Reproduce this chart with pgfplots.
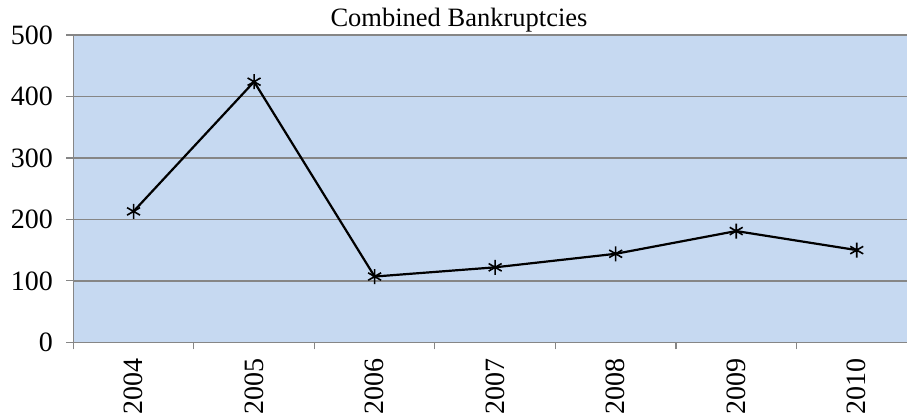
\documentclass[border=0pt]{standalone}
\usepackage{fontspec}
\setmainfont{Liberation Serif}
\usepackage{pgfplots}
\pgfplotsset{compat=1.18}

\definecolor{plotbg}{HTML}{C6D9F1}
\definecolor{gridgray}{HTML}{868686}

\pgfplotstableread{
x year value
0 2004 213
1 2005 424
2 2006 107
3 2007 122
4 2008 144
5 2009 181
6 2010 150
}\bankrupt

\begin{document}
\begin{tikzpicture}[x=1bp,y=1bp]
\begin{axis}[
    at={(73.3bp,71.7bp)}, anchor=south west,
    scale only axis,
    width=833.7bp, height=307.3bp,
    xmin=-0.5, xmax=6.417,
    ymin=0, ymax=500,
    axis background/.style={fill=plotbg},
    axis x line*=bottom, axis y line*=left,
    axis line style={gridgray, line width=1.2bp, -},
    xtick={-0.5,0.5,1.5,2.5,3.5,4.5,5.5},
    xticklabels={},
    extra x ticks={0,1,2,3,4,5,6},
    extra x tick labels={2004,2005,2006,2007,2008,2009,2010},
    extra x tick style={major tick length=0pt},
    ytick={0,100,200,300,400,500},
    major tick length=7bp,
    tick style={gridgray, line width=1.2bp},
    tick align=outside,
    ymajorgrids,
    major grid style={gridgray, line width=1.4bp},
    /pgf/number format/assume math mode=true,
    yticklabel style={font=\fontsize{28bp}{32bp}\selectfont, xshift=-10bp},
    xticklabel style={font=\fontsize{28bp}{32bp}\selectfont, rotate=90, anchor=east, xshift=-13bp},
    clip=false,
]
\addplot[black, line width=2.2bp, mark=asterisk, mark size=7.5bp, mark options={line width=1.6bp}] table[x=x, y=value] {\bankrupt};
\end{axis}
\node[anchor=base, font=\fontsize{26.5bp}{30bp}\selectfont] at (459bp,387bp) {Combined Bankruptcies};
\pgfresetboundingbox
\useasboundingbox (0,0) rectangle (907bp,414bp);
\end{tikzpicture}
\end{document}
